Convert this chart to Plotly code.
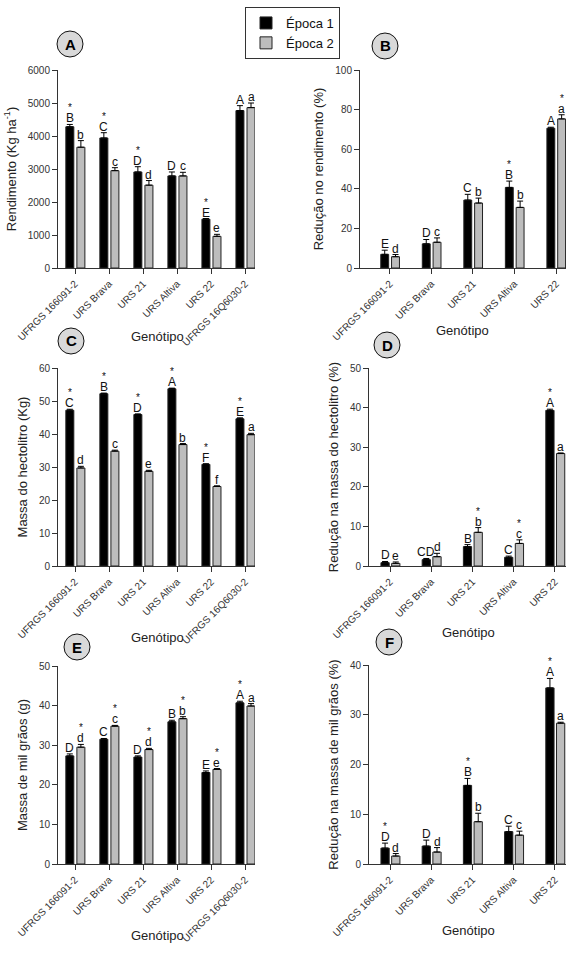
import plotly.graph_objects as go

W, H = 573, 954

cats6 = ["UFRGS 166091-2", "URS Brava", "URS 21", "URS Altiva", "URS 22", "UFRGS 16Q6030-2"]
cats5 = cats6[:5]

# A - Rendimento
rend_e1 = [4280, 3940, 2910, 2790, 1480, 4770]
rend_e1_err = [70, 160, 160, 120, 20, 150]
rend_e2 = [3660, 2950, 2510, 2790, 960, 4860]
rend_e2_err = [200, 90, 140, 110, 60, 140]
rend_l1 = ["B", "C", "D", "D", "E", "A"]
rend_s1 = [1, 1, 1, 0, 1, 0]
rend_l2 = ["b", "c", "d", "c", "e", "a"]
rend_s2 = [0, 0, 0, 0, 0, 0]

# B - Redução no rendimento
redr_e1 = [6.9, 12.2, 34.3, 40.7, 70.6]
redr_e1_err = [2.1, 2.2, 2.9, 3.2, 0.5]
redr_e2 = [5.7, 13.0, 32.8, 30.6, 75.3]
redr_e2_err = [1.1, 2.2, 2.5, 3.2, 2.1]
redr_l1 = ["E", "D", "C", "B", "A"]
redr_s1 = [0, 0, 0, 1, 0]
redr_l2 = ["d", "c", "b", "b", "a"]
redr_s2 = [0, 0, 0, 0, 1]

# C - Massa do hectolitro
ph_e1 = [47.2, 52.2, 45.9, 53.7, 30.8, 44.6]
ph_e1_err = [0.3, 0.2, 0.2, 0.2, 0.2, 0.3]
ph_e2 = [29.7, 34.8, 28.7, 36.8, 24.1, 39.8]
ph_e2_err = [0.5, 0.3, 0.3, 0.3, 0.2, 0.4]
ph_l1 = ["C", "B", "D", "A", "F", "E"]
ph_s1 = [1, 1, 1, 1, 1, 1]
ph_l2 = ["d", "c", "e", "b", "f", "a"]
ph_s2 = [0, 0, 0, 0, 0, 0]

# D - Redução na massa do hectolitro
rph_e1 = [0.84, 1.6, 4.9, 2.2, 39.3]
rph_e1_err = [0.3, 0.3, 0.5, 0.3, 0.3]
rph_e2 = [0.67, 2.35, 8.5, 5.7, 28.4]
rph_e2_err = [0.35, 0.85, 1.2, 0.9, 0.15]
rph_l1 = ["D", "CD", "B", "C", "A"]
rph_s1 = [0, 0, 0, 0, 1]
rph_l2 = ["e", "d", "b", "c", "a"]
rph_s2 = [0, 0, 1, 1, 0]

# E - Massa de mil grãos
mg_e1 = [27.3, 31.5, 27.0, 35.9, 23.1, 40.7]
mg_e1_err = [0.5, 0.2, 0.3, 0.4, 0.4, 0.4]
mg_e2 = [29.5, 34.8, 28.9, 36.7, 23.9, 39.9]
mg_e2_err = [0.7, 0.2, 0.3, 0.5, 0.2, 0.6]
mg_l1 = ["D", "C", "D", "B", "E", "A"]
mg_s1 = [0, 0, 0, 0, 0, 1]
mg_l2 = ["d", "c", "d", "b", "e", "a"]
mg_s2 = [1, 1, 1, 1, 1, 0]

# F - Redução na massa de mil grãos
rmg_e1 = [3.2, 3.6, 15.8, 6.5, 35.4]
rmg_e1_err = [1.0, 1.2, 1.4, 1.1, 1.9]
rmg_e2 = [1.6, 2.4, 8.5, 5.8, 28.3]
rmg_e2_err = [0.5, 0.9, 1.7, 0.8, 0.2]
rmg_l1 = ["D", "D", "B", "C", "A"]
rmg_s1 = [1, 0, 1, 0, 1]
rmg_l2 = ["d", "d", "b", "c", "a"]
rmg_s2 = [0, 0, 0, 0, 0]

FONT = "Arial, Liberation Sans, sans-serif"
AXC = "#333333"
BLACK = "#000000"
GRAY = "#bdbdbd"

panels = [
    dict(tag="A", cats=cats6, v1=rend_e1, e1=rend_e1_err, v2=rend_e2, e2=rend_e2_err,
         l1=rend_l1, s1=rend_s1, l2=rend_l2, s2=rend_s2,
         box=(58, 255, 70, 268), xr=[-0.5, 5.29], yr=[0, 6000], dt=1000,
         ytitle="Rendimento (Kg ha<sup>-1</sup>)", circ=(70, 44), gen=(157, 336),
         w=0.235, o1=-0.27, o2=0.055),
    dict(tag="B", cats=cats5, v1=redr_e1, e1=redr_e1_err, v2=redr_e2, e2=redr_e2_err,
         l1=redr_l1, s1=redr_s1, l2=redr_l2, s2=redr_s2,
         box=(360, 566, 70, 268), xr=[-0.72, 4.24], yr=[0, 100], dt=20,
         ytitle="Redução no rendimento (%)", circ=(385, 46), gen=(462, 331),
         w=0.19, o1=-0.22, o2=0.04),
    dict(tag="C", cats=cats6, v1=ph_e1, e1=ph_e1_err, v2=ph_e2, e2=ph_e2_err,
         l1=ph_l1, s1=ph_s1, l2=ph_l2, s2=ph_s2,
         box=(58, 255, 368, 566), xr=[-0.5, 5.29], yr=[0, 60], dt=10,
         ytitle="Massa do hectolitro (Kg)", circ=(71, 341), gen=(157, 637),
         w=0.235, o1=-0.27, o2=0.055),
    dict(tag="D", cats=cats5, v1=rph_e1, e1=rph_e1_err, v2=rph_e2, e2=rph_e2_err,
         l1=rph_l1, s1=rph_s1, l2=rph_l2, s2=rph_s2,
         box=(369, 566, 368, 566), xr=[-0.51, 4.27], yr=[0, 50], dt=10,
         ytitle="Redução na massa do hectolitro (%)", circ=(387, 345), gen=(468, 632),
         w=0.2, o1=-0.22, o2=0.04),
    dict(tag="E", cats=cats6, v1=mg_e1, e1=mg_e1_err, v2=mg_e2, e2=mg_e2_err,
         l1=mg_l1, s1=mg_s1, l2=mg_l2, s2=mg_s2,
         box=(58, 255, 666, 864), xr=[-0.5, 5.29], yr=[0, 50], dt=10,
         ytitle="Massa de mil grãos (g)", circ=(77, 647), gen=(157, 935),
         w=0.235, o1=-0.27, o2=0.055),
    dict(tag="F", cats=cats5, v1=rmg_e1, e1=rmg_e1_err, v2=rmg_e2, e2=rmg_e2_err,
         l1=rmg_l1, s1=rmg_s1, l2=rmg_l2, s2=rmg_s2,
         box=(369, 566, 665, 864), xr=[-0.51, 4.27], yr=[0, 40], dt=10,
         ytitle="Redução na massa de mil grãos (%)", circ=(389, 642), gen=(468, 930),
         w=0.2, o1=-0.22, o2=0.04),
]

fig = go.Figure()
annotations = []
shapes = []
layout_axes = {}

for k, p in enumerate(panels):
    idx = "" if k == 0 else str(k + 1)
    xa, ya = "x" + idx, "y" + idx
    x0, x1, y0, y1 = p["box"]
    n = len(p["cats"])
    for (vals, errs, color, name, off) in [
        (p["v1"], p["e1"], BLACK, "Época 1", p["o1"]),
        (p["v2"], p["e2"], GRAY, "Época 2", p["o2"]),
    ]:
        fig.add_trace(go.Bar(
            x=p["cats"], y=vals, name=name, xaxis=xa, yaxis=ya,
            width=p["w"], offset=off,
            marker=dict(color=color, line=dict(color="#222222", width=1)),
            error_y=dict(type="data", array=errs, arrayminus=[0] * n, symmetric=False,
                         color="#000000", thickness=1, width=3),
            showlegend=(k == 0), legendgroup=name,
        ))
    # letters
    for (vals, errs, labs, stars, off) in [
        (p["v1"], p["e1"], p["l1"], p["s1"], p["o1"]),
        (p["v2"], p["e2"], p["l2"], p["s2"], p["o2"]),
    ]:
        for i in range(n):
            xc = i + off + p["w"] / 2
            top = vals[i] + errs[i]
            annotations.append(dict(
                x=xc, y=top, xref=xa, yref=ya, text=labs[i], showarrow=False,
                yanchor="bottom", xanchor="center", yshift=-2, borderpad=0,
                font=dict(family=FONT, size=12, color="#111111")))
            if stars[i]:
                annotations.append(dict(
                    x=xc, y=top, xref=xa, yref=ya, text="*", showarrow=False,
                    yanchor="bottom", xanchor="center", yshift=10, borderpad=0,
                    font=dict(family=FONT, size=10, color="#111111")))
    # x title
    gx, gy = p["gen"]
    annotations.append(dict(
        x=(gx - x0) / (x1 - x0), y=-(gy - y1) / (y1 - y0),
        xref=xa + " domain", yref=ya + " domain", text="Genótipo", showarrow=False,
        xanchor="center", yanchor="middle",
        font=dict(family=FONT, size=13, color="#222222")))
    # panel badge
    cx, cy = p["circ"]
    r = 13
    shapes.append(dict(type="circle", xref="paper", yref="paper",
                       x0=(cx - r) / W, x1=(cx + r) / W,
                       y0=1 - (cy + r) / H, y1=1 - (cy - r) / H,
                       fillcolor="#d9d9d9", line=dict(color="#111111", width=1)))
    annotations.append(dict(x=cx / W, y=1 - cy / H, xref="paper", yref="paper",
                            text="<b>" + p["tag"] + "</b>", showarrow=False,
                            xanchor="center", yanchor="middle",
                            font=dict(family=FONT, size=15, color="#000000")))

    layout_axes["xaxis" + idx] = dict(
        domain=[x0 / W, x1 / W], anchor=ya, type="category", range=p["xr"],
        showline=True, linecolor=AXC, linewidth=1, ticks="outside", ticklen=5,
        tickcolor=AXC, tickangle=-45, showgrid=False, zeroline=False,
        tickfont=dict(family=FONT, size=10, color="#333333"), fixedrange=True,
        automargin=False,
    )
    layout_axes["yaxis" + idx] = dict(
        domain=[1 - y1 / H, 1 - y0 / H], anchor=xa, range=p["yr"], dtick=p["dt"],
        tick0=0, showline=True, linecolor=AXC, linewidth=1, ticks="outside",
        ticklen=5, tickcolor=AXC, showgrid=False, zeroline=False,
        tickfont=dict(family=FONT, size=10, color="#333333"),
        title=dict(text=p["ytitle"], font=dict(family=FONT, size=13, color="#222222"),
                   standoff=8),
        fixedrange=True, automargin=False,
    )

fig.update_layout(
    width=W, height=H, margin=dict(l=0, r=0, t=0, b=0, autoexpand=False),
    paper_bgcolor="white", plot_bgcolor="white",
    barmode="overlay",
    showlegend=True,
    legend=dict(x=245 / W, y=1 - 7 / H, xanchor="left", yanchor="top",
                bordercolor="#333333", borderwidth=1, bgcolor="white",
                font=dict(family=FONT, size=13, color="#111111"),
                tracegroupgap=0, itemwidth=30),
    annotations=annotations, shapes=shapes,
    **layout_axes,
)

fig.write_html("out.html")
